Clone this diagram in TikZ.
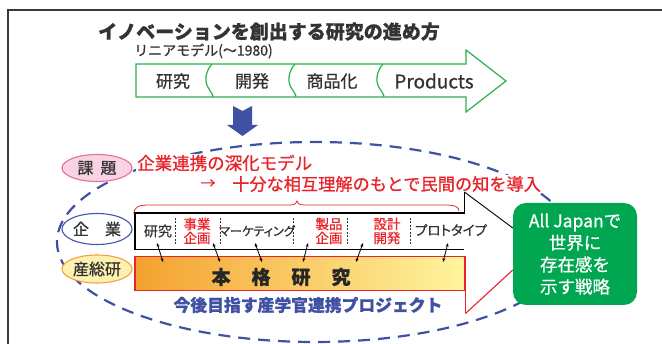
\documentclass[tikz,border=0pt]{standalone}
\usepackage{fontspec}
\setmainfont{Noto Sans CJK JP}[RawFeature={embolden=0.8}]
\newfontfamily\jpp{Noto Sans CJK JP}[RawFeature={+palt;embolden=0.8}]
\usetikzlibrary{arrows.meta,shapes.geometric,calc}
\newcommand{\fsz}[1]{\fontsize{#1}{#1}\selectfont}
\definecolor{framegray}{HTML}{3A3A3A}
\definecolor{agreen}{HTML}{2BB04E}
\definecolor{navy}{HTML}{3F51A3}
\definecolor{jred}{HTML}{E8242B}
\definecolor{pinkF}{HTML}{F9D3E3}
\definecolor{pinkB}{HTML}{E46F9F}
\definecolor{eblue}{HTML}{4058A8}
\definecolor{yelF}{HTML}{FEF1B0}
\definecolor{orB}{HTML}{F2A33A}
\definecolor{barL}{HTML}{F4A12F}
\definecolor{barR}{HTML}{FFF59E}
\definecolor{gboxc}{HTML}{00A650}
\definecolor{txtgray}{HTML}{333333}
\tikzset{
  lbl/.style={text=txtgray, inner sep=0pt},
  lellipse/.style={ellipse, minimum width=70pt, inner sep=0pt, line width=1.1pt, text=txtgray, font=\fsz{16}},
  wave/.style={agreen, line width=1.2pt},
  divline/.style={txtgray, line width=0.6pt, dash pattern=on 2pt off 1.5pt},
  dbl/.style={{Stealth[length=4pt,width=3pt]}-{Stealth[length=4pt,width=3pt]}, line width=0.8pt, black},
  redsm/.style={text=jred, inner sep=0pt, align=center, font=\fontsize{13.5}{14}\selectfont}
}
\begin{document}
\begin{tikzpicture}[x=1pt,y=-1pt]
\useasboundingbox (0,0) rectangle (662,344);
% frame
\draw[framegray, line width=1.2pt] (8,344) -- (8,10) -- (662,10);
% big dashed ellipse
\draw[navy, line width=2.2pt, dash pattern=on 12pt off 8pt] (315,242) ellipse [x radius=258, y radius=100];
% title
\node[lbl, font=\fsz{19}\bfseries] (title) at (269,31.5) {イノベーションを創出する研究の進め方};
\node[lbl, font=\fsz{14}, anchor=west] (sub) at (134,51) {リニアモデル(～1980)};
% green arrow
\draw[agreen, line width=1.2pt, fill=white] (136,64) -- (466,64) -- (466,50) -- (506,81) -- (466,112) -- (466,97) -- (136,97) -- cycle;
\draw[wave] (212,64) .. controls (205,72) and (204,82) .. (209,89) .. controls (211,92) and (213,95) .. (213,97);
\draw[wave] (295,64) .. controls (288,72) and (287,82) .. (292,89) .. controls (294,92) and (296,95) .. (296,97);
\draw[wave] (383,64) .. controls (376,72) and (375,82) .. (380,89) .. controls (382,92) and (384,95) .. (384,97);
\node[lbl, font=\fsz{17}] (s1) at (173,81) {研究};
\node[lbl, font=\fsz{17}] (s2) at (252,81) {開発};
\node[lbl, font=\fsz{17}] (s3) at (332,81) {商品化};
\node[lbl, font=\fsz{19}] (s4) at (434,81) {Products};
% blue down arrow
\fill[navy] (233,106) -- (242.5,111) -- (252,106) -- (252,125) -- (258,125) -- (242.5,136) -- (227,125) -- (233,125) -- cycle;
% left ellipses
\node[lellipse, draw=pinkB, fill=pinkF, minimum height=27pt] (kadai) at (97,168) {課\hspace{7pt}題};
\node[lellipse, draw=eblue, fill=white, minimum height=31pt] (kigyo) at (97,229) {企\hspace{16pt}業};
\node[lellipse, draw=orB, fill=yelF, minimum height=28pt] (aist) at (97,269) {産総研};
% red heading
\node[text=jred, fill=white, inner sep=1pt, font=\fsz{17.5}, anchor=west] (h1) at (136,163) {企業連携の深化モデル};
\node[text=jred, inner sep=0pt, font=\fsz{15}] (harr) at (208,184) {→};
\node[text=jred, fill=white, inner sep=1pt, font=\fsz{17.2}, anchor=west] (h2) at (231,184) {十分な相互理解のもとで民間の知を導入};
% brace
\draw[jred, line width=0.8pt] (134,214) .. controls (134,207) and (138,205) .. (150,205) -- (290,205) .. controls (295,205) and (297,203) .. (297,201) .. controls (297,203) and (299,205) .. (304,205) -- (445,205) .. controls (455,205) and (459,207) .. (459,211);
% green box
\node[rounded corners=13pt, fill=gboxc, minimum width=124pt, minimum height=102pt, text=white, align=center, inner sep=0pt, font=\fontsize{17.5}{22}\selectfont] (gbox) at (575,254) {All Japanで\\世界に\\存在感を\\示す戦略};
% company box
\node[minimum width=329pt, minimum height=36pt, inner sep=0pt, anchor=north west] (cbox) at (135,213) {};
\draw[black, line width=1.5pt] (cbox.south east) -- (cbox.south west) -- (cbox.north west) -- (cbox.north east) -- ++(0,-21) coordinate (ctip);
\draw[black, line width=0.9pt] (ctip) -- ([yshift=26pt]gbox.west);
\foreach \xx in {175,220,293,347,410} \draw[divline] (\xx,218) -- (\xx,244);
\node[lbl, font=\fsz{14}] (c1) at (158,231) {研究};
\node[redsm] (c2) at (197,231) {事業\\企画};
\node[lbl, font=\jpp\fsz{12.2}] (c3) at (257,231) {マーケティング};
\node[redsm] (c4) at (329,231) {製品\\企画};
\node[redsm] (c5) at (387,231) {設計\\開発};
\node[lbl, font=\jpp\fsz{13.5}] (c6) at (451,230) {プロトタイプ};
% bar
\node[draw=jred, line width=1.5pt, left color=barL, right color=barR, minimum width=330pt, minimum height=34pt, inner sep=0pt, anchor=north west] (bar) at (134,256) {};
\node[lbl, font=\fsz{19}\bfseries, text=black!85] (bart) at (281,277) {本\hspace{21pt}格\hspace{21pt}研\hspace{21pt}究};
\draw[jred, line width=1.3pt] (bar.south east) -- ++(0,22) coordinate (rtip);
\draw[jred, line width=1.1pt] (rtip) -- ([yshift=-16pt]gbox.west);
\node[text=navy, inner sep=0pt, font=\fsz{16.8}\bfseries] (proj) at (308,305) {今後目指す産学官連携プロジェクト};
% double arrows
\coordinate (a1t) at (157,243); \coordinate (a1b) at (163,262);
\coordinate (a2t) at (213,243); \coordinate (a2b) at (220,262);
\coordinate (a3t) at (255,243); \coordinate (a3b) at (262,262);
\coordinate (a4t) at (308,243); \coordinate (a4b) at (303,262);
\coordinate (a5t) at (363,243); \coordinate (a5b) at (356,262);
\coordinate (a6t) at (448,243); \coordinate (a6b) at (443,262);
\foreach \i in {1,...,6} \draw[dbl] (a\i t) -- (a\i b);
\end{tikzpicture}
\end{document}
